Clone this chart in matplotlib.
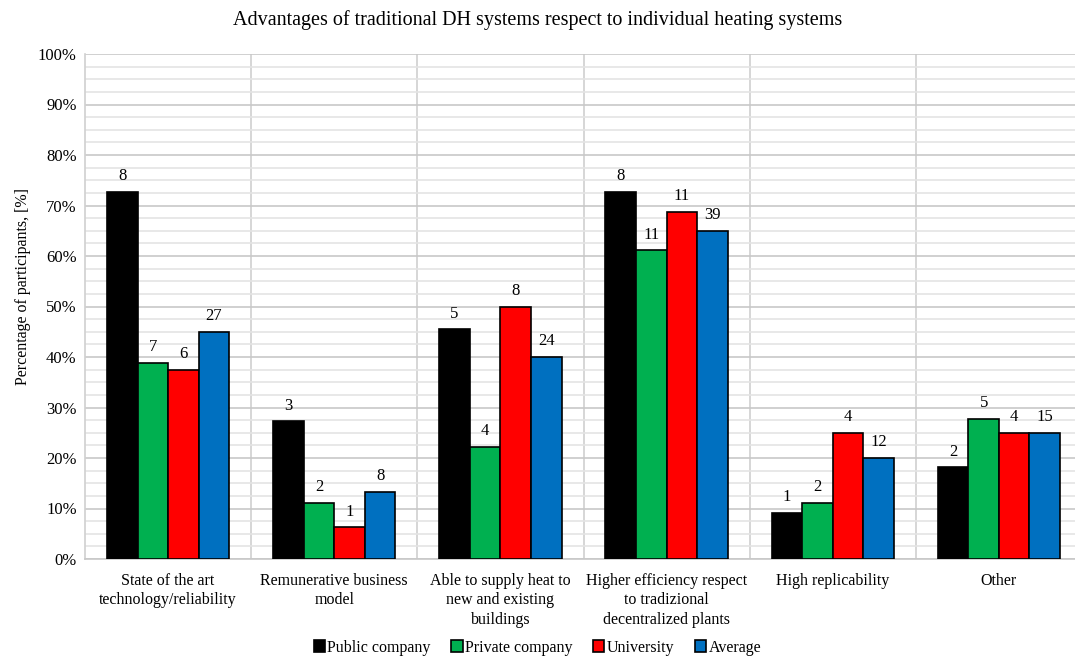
import numpy as np
from matplotlib import pyplot as plt
from matplotlib.ticker import MultipleLocator, FuncFormatter

plt.rcParams['font.family'] = ['Liberation Serif', 'DejaVu Serif']

categories = ['State of the art\ntechnology/reliability',
              'Remunerative business\nmodel',
              'Able to supply heat to\nnew and existing\nbuildings',
              'Higher efficiency respect\nto tradizional\ndecentralized plants',
              'High replicability',
              'Other']
series = ['Public company', 'Private company', 'University', 'Average']
colors = ['#000000', '#00B050', '#FF0000', '#0070C0']

# percentuali
public = [72.7, 27.3, 45.5, 72.7, 9.1, 18.2]
private = [38.9, 11.1, 22.2, 61.1, 11.1, 27.8]
university = [37.5, 6.3, 50.0, 68.8, 25.0, 25.0]
average = [45.0, 13.3, 40.0, 65.0, 20.0, 25.0]

# numero di partecipanti (etichette sopra le barre)
public_n = [8, 3, 5, 8, 1, 2]
private_n = [7, 2, 4, 11, 2, 5]
university_n = [6, 1, 8, 11, 4, 4]
average_n = [27, 8, 24, 39, 12, 15]

values = [public, private, university, average]
counts = [public_n, private_n, university_n, average_n]

fig = plt.figure(figsize=(10.75, 6.62), dpi=100)
ax = fig.add_axes([85 / 1075, 1 - 559 / 662, 990 / 1075, 505 / 662])

x = np.arange(len(categories))
w = 0.184
for i, (vals, ns) in enumerate(zip(values, counts)):
    pos = x + (i - 1.5) * w
    bars = ax.bar(pos, vals, w, color=colors[i], edgecolor='black',
                  linewidth=1.2, label=series[i], zorder=3)
    for b, n in zip(bars, ns):
        ax.text(b.get_x() + b.get_width() / 2, b.get_height() + 1.5, str(n),
                ha='center', va='bottom', fontsize=12)

# griglia
ax.set_ylim(0, 100)
ax.yaxis.set_major_locator(MultipleLocator(10))
ax.yaxis.set_minor_locator(MultipleLocator(2.5))
ax.yaxis.set_major_formatter(FuncFormatter(lambda v, p: '%d%%' % v))
ax.grid(axis='y', which='major', color='#c8c8c8', linewidth=1.2, zorder=0)
ax.grid(axis='y', which='minor', color='#e4e4e4', linewidth=1.2, zorder=0)
for s in x[:-1] + 0.5:
    ax.axvline(s, color='#d0d0d0', linewidth=1.2, zorder=0)

ax.set_xlim(-0.5, 5.5 - 7 / 166)
ax.set_xticks(x)
ax.set_xticklabels(categories, fontsize=11.5, linespacing=1.3)
ax.tick_params(axis='x', length=0, pad=10)
ax.tick_params(axis='y', which='both', length=0, labelsize=12, pad=6)

for side in ['top', 'right']:
    ax.spines[side].set_visible(False)
ax.spines['left'].set_color('#d0d0d0')
ax.spines['bottom'].set_color('#c8c8c8')
ax.spines['left'].set_linewidth(1.2)
ax.spines['bottom'].set_linewidth(1.2)

ax.set_ylabel('Percentage of participants, [%]', fontsize=11.5)
ax.yaxis.set_label_coords(-0.055, 0.54)
fig.suptitle('Advantages of traditional DH systems respect to individual heating systems',
             fontsize=14.5, y=0.985)

fig.legend(loc='lower center', ncol=4, bbox_to_anchor=(0.5, -0.012), frameon=False,
           fontsize=11.5, handlelength=0.7, handleheight=0.7, handletextpad=0.15,
           columnspacing=1.3)

plt.savefig('out.png', dpi=100)
